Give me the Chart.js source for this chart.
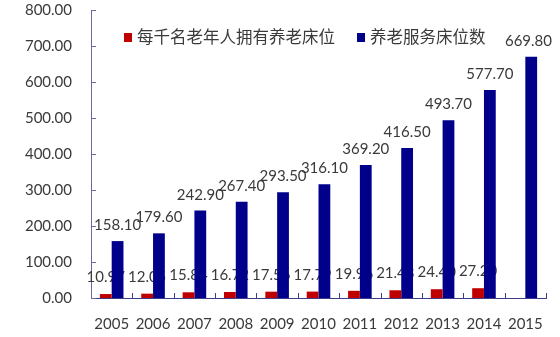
<!DOCTYPE html>
<html>
<head>
<meta charset="utf-8">
<script src="https://cdn.jsdelivr.net/npm/chart.js@4/dist/chart.umd.min.js"></script>
<style>
  html, body { margin: 0; padding: 0; background: #fff; }
  #wrap { width: 560px; height: 337px; }
</style>
</head>
<body>
<div id="wrap"><canvas id="bedsChart"></canvas></div>
<script>
var years = ['2005', '2006', '2007', '2008', '2009', '2010', '2011', '2012', '2013', '2014', '2015'];
var bedsPerThousand = [10.97, 12.05, 15.84, 16.72, 17.56, 17.79, 19.96, 21.48, 24.40, 27.20, null];
var serviceBeds = [158.10, 179.60, 242.90, 267.40, 293.50, 316.10, 369.20, 416.50, 493.70, 577.70, 669.80];
var seriesNames = ['每千名老年人拥有养老床位', '养老服务床位数'];
var seriesColors = ['#c00000', '#00008b'];

var numFont = 'Lato, "Liberation Sans", sans-serif';
var numSize = 15;
var cjkFont = '"Noto Sans CJK SC", sans-serif';
var textColor = '#3a3a3a';

// value labels; the first series is painted under the bars so the
// second series covers it, the second one on top
function drawLabels(chart, dsIndex) {
    var ctx = chart.ctx;
    var meta = chart.getDatasetMeta(dsIndex);
    var values = chart.data.datasets[dsIndex].data;
    ctx.save();
    ctx.font = numSize + 'px ' + numFont;
    ctx.fillStyle = textColor;
    ctx.textAlign = 'center';
    ctx.textBaseline = 'alphabetic';
    meta.data.forEach(function (bar, i) {
        if (values[i] == null) return;
        var txt = values[i].toFixed(2);
        var w = ctx.measureText(txt).width;
        var x = bar.x;
        if (x + w / 2 > chart.width - 8) x = chart.width - 8 - w / 2;
        ctx.fillText(txt, x, bar.y - (dsIndex === 0 ? 12 : 11));
    });
    ctx.restore();
}

var valueLabels = {
    id: 'valueLabels',
    beforeDatasetsDraw: function (chart) { drawLabels(chart, 0); },
    afterDatasetsDraw: function (chart) { drawLabels(chart, 1); }
};

// tick marks pointing into the plot area
var innerTicks = {
    id: 'innerTicks',
    afterDraw: function (chart) {
        var ctx = chart.ctx;
        var xs = chart.scales.x, ys = chart.scales.y;
        ctx.save();
        ctx.lineWidth = 1;
        ctx.strokeStyle = '#6a6aa0';
        ys.ticks.forEach(function (t) {
            var y = Math.round(ys.getPixelForValue(t.value)) + 0.5;
            ctx.beginPath();
            ctx.moveTo(xs.left, y);
            ctx.lineTo(xs.left + 5, y);
            ctx.stroke();
        });
        ctx.strokeStyle = '#3c3c88';
        var n = chart.data.labels.length;
        var step = (xs.right - xs.left) / n;
        for (var i = 1; i <= n; i++) {
            var x = Math.round(xs.left + i * step) + 0.5;
            ctx.beginPath();
            ctx.moveTo(x, ys.bottom);
            ctx.lineTo(x, ys.bottom - 5);
            ctx.stroke();
        }
        ctx.restore();
    }
};

// legend inside the plot, top left
var topLegend = {
    id: 'topLegend',
    afterDraw: function (chart) {
        var ctx = chart.ctx;
        var x = 124, y = 37;
        ctx.save();
        ctx.font = '16.5px ' + cjkFont;
        ctx.textBaseline = 'middle';
        ctx.textAlign = 'left';
        chart.data.datasets.forEach(function (ds) {
            ctx.fillStyle = ds.backgroundColor;
            ctx.fillRect(x, y - 4, 8, 9);
            x += 13;
            ctx.fillStyle = textColor;
            ctx.fillText(ds.label, x, y);
            x += ctx.measureText(ds.label).width + 22;
        });
        ctx.restore();
    }
};

var ctx = document.getElementById('bedsChart').getContext('2d');

var bedsChart = new Chart(ctx, {
    type: 'bar',
    data: {
        labels: years,
        datasets: [
            {
                label: seriesNames[0],
                data: bedsPerThousand,
                backgroundColor: seriesColors[0]
            },
            {
                label: seriesNames[1],
                data: serviceBeds,
                backgroundColor: seriesColors[1]
            }
        ]
    },
    options: {
        responsive: true,
        maintainAspectRatio: false,
        animation: false,
        layout: { padding: { top: 2, right: 6, left: 0, bottom: 0 } },
        datasets: {
            bar: { categoryPercentage: 0.57, barPercentage: 1 }
        },
        plugins: {
            legend: { display: false },
            tooltip: { enabled: false }
        },
        scales: {
            x: {
                grid: { display: false, drawTicks: false },
                border: { color: '#3c3c88', width: 1 },
                ticks: {
                    color: textColor,
                    font: { family: numFont, size: numSize },
                    padding: 17,
                    maxRotation: 0
                },
                afterFit: function (scale) { scale.height = 39; }
            },
            y: {
                min: 0,
                max: 800,
                grid: { display: false, drawTicks: false },
                border: { color: '#6a6aa0', width: 1 },
                ticks: {
                    stepSize: 100,
                    color: textColor,
                    font: { family: numFont, size: numSize },
                    padding: 19,
                    callback: function (v) { return Number(v).toFixed(2); }
                },
                afterFit: function (scale) {
                    scale.width = 91;
                    scale.paddingTop = 10;
                }
            }
        }
    },
    plugins: [valueLabels, innerTicks, topLegend]
});
</script>
</body>
</html>
